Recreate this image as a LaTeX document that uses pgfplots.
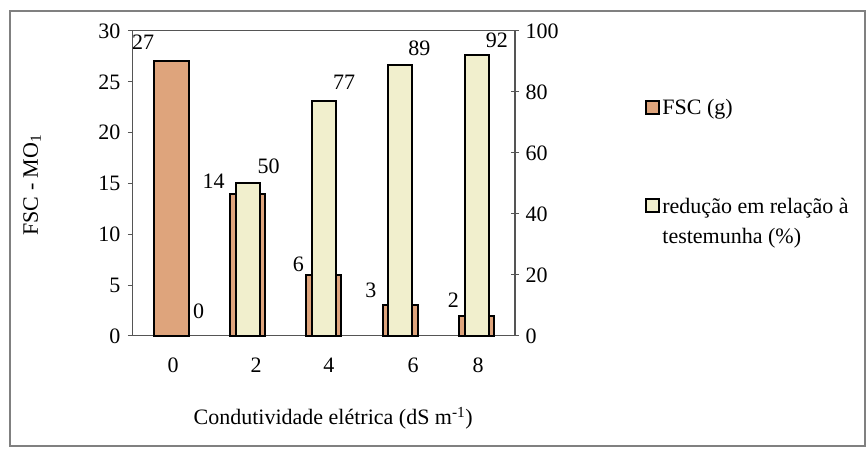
\documentclass[border=0pt]{standalone}
\usepackage{pgfplots}
\pgfplotsset{compat=1.18}
\usepackage{pgfplotstable}
\usepackage{fontspec}
\setmainfont{Liberation Serif}
\definecolor{fsc}{RGB}{222,164,124}
\definecolor{yel}{RGB}{241,239,205}
\definecolor{axgray}{RGB}{85,85,85}
\pgfplotsset{sqlegend/.style={legend image code/.code={\draw[##1,/tikz/.cd, line width=2pt] (0pt,-6pt) rectangle (13pt,7pt);}},
  sqlegendb/.style={legend image code/.code={\draw[##1,/tikz/.cd, line width=2pt] (0pt,9pt) rectangle (13pt,22pt);}}}
\pgfplotstableread{
x y dx dy
0 27 -16 19
1 14 -22 12
2 6 -19 11
3 3 -23 15
4 2 -17 15
}\fsctab
\pgfplotstableread{
x y dx dy
0 0 21 25
1 50 9 17
2 77 8 19
3 89 7 16
4 92 8 15
}\redtab
\begin{document}
\begin{tikzpicture}[x=1pt,y=1pt]
\path (0,0) rectangle (868,449);
\draw[gray, line width=1.2pt] (10,3) rectangle (865,438);
\pgfplotsset{common/.style={
  at={(133pt,113pt)}, anchor=south west, scale only axis,
  width=382pt, height=305pt, xmin=-0.5, xmax=4.5,
  ybar, bar shift=0pt, clip=false,
  font=\fontsize{22}{28}\selectfont,
  /pgf/number format/assume math mode=true,
  axis line style={axgray, line width=1pt},
  tick style={axgray, line width=1pt},
  nodes near coords,
  visualization depends on={\thisrow{dx} \as \dx},
  visualization depends on={\thisrow{dy} \as \dy},
  nodes near coords style={font=\fontsize{22}{28}\selectfont, inner sep=0pt},
}}
\begin{axis}[common,
  ymin=0, ymax=30, ytick={0,5,...,30}, ytick pos=left,
  xtick={0.024,1.11,2.065,3.165,4.016}, xticklabels={0,2,4,6,8}, xtick pos=bottom,
  x tick style={draw=none},
  tick align=outside, major tick length=5pt,
  yticklabel style={xshift=-4pt},
  xticklabel style={yshift=-13pt},
  every node near coord/.append style={anchor=east, xshift=\dx pt, yshift=\dy pt},
  ylabel={FSC - MO\textsubscript{1}},
  ylabel style={at={(axis description cs:-0.264,0.495)}, anchor=center},
  xlabel={Condutividade elétrica (dS m\textsuperscript{-1})},
  xlabel style={at={(axis description cs:0.524,-0.269)}, anchor=center},
]
\addplot[fill=fsc, draw=black, line width=2pt, bar width=35pt] table[x=x, y=y] {\fsctab};
\end{axis}
\begin{axis}[common,
  ymin=0, ymax=100, ytick={0,20,...,100},
  axis y line*=right, axis x line=none,
  tick align=center, major tick length=8pt,
  yticklabel style={xshift=3pt},
  every node near coord/.append style={anchor=west, xshift=\dx pt, yshift=\dy pt},
  legend style={at={(axis description cs:1.333,0.79)}, anchor=north west,
    draw=none, fill=none, row sep=78pt, font=\fontsize{22}{30}\selectfont,
    cells={anchor=west, align=left}},
]
\addlegendimage{sqlegend, fill=fsc, draw=black}
\addlegendentry{FSC (g)}
\addplot[fill=yel, draw=black, line width=2pt, bar width=24pt, sqlegendb] table[x=x, y=y] {\redtab};
\addlegendentry{redução em relação à\\testemunha (\%)}
\end{axis}
\end{tikzpicture}
\end{document}
